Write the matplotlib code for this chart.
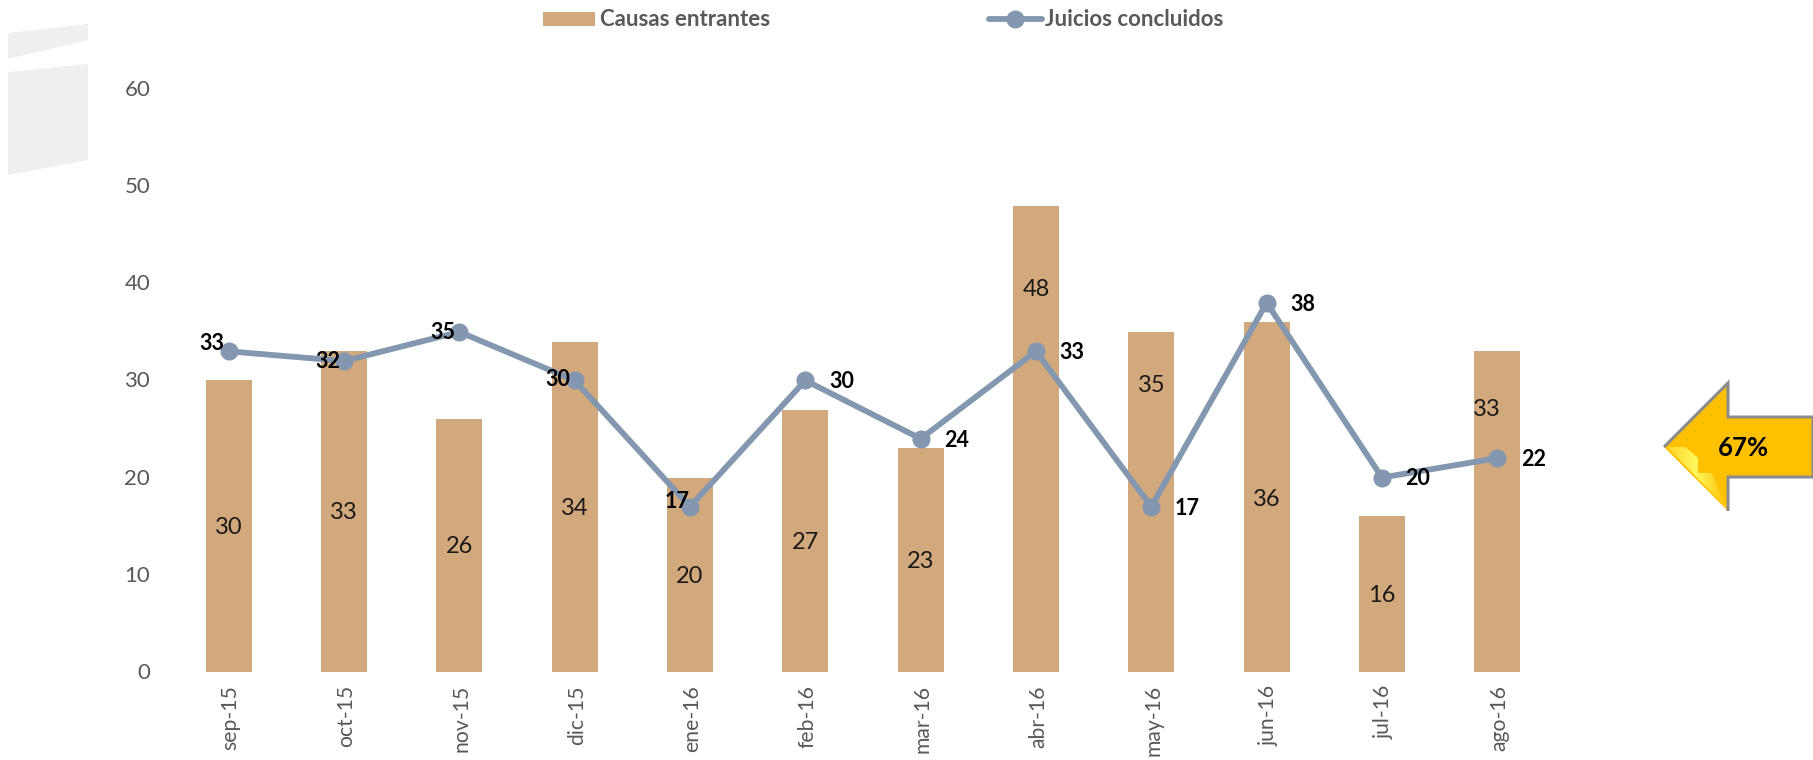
import numpy as np
import matplotlib
matplotlib.use("Agg")
import matplotlib.pyplot as plt
from matplotlib.patches import Polygon, Rectangle
from matplotlib.lines import Line2D
from matplotlib.colors import LinearSegmentedColormap
from matplotlib.transforms import ScaledTranslation

plt.rcParams['font.family'] = ['Lato', 'DejaVu Sans']

months = ['sep-15', 'oct-15', 'nov-15', 'dic-15', 'ene-16', 'feb-16',
          'mar-16', 'abr-16', 'may-16', 'jun-16', 'jul-16', 'ago-16']
causas = [30, 33, 26, 34, 20, 27, 23, 48, 35, 36, 16, 33]
juicios = [33, 32, 35, 30, 17, 30, 24, 33, 17, 38, 20, 22]
y_ticks = [0, 10, 20, 30, 40, 50, 60]
arrow_text = '67%'

BAR = '#D2A97C'
LINE = '#8497B0'
GREY = '#595959'
W, H = 1813, 760
fig = plt.figure(figsize=(W / 100, H / 100), dpi=100, facecolor='white')

# main chart, placed by pixel box
L, R, T, B = 171, 1555, 89.2, 671.7
ax = fig.add_axes([L / W, 1 - B / H, (R - L) / W, (B - T) / H])
ax.set_xlim(-0.5, 11.5)
ax.set_ylim(0, 60)
x = np.arange(len(months))
ax.bar(x, causas, width=0.4, color=BAR, zorder=2)
ax.plot(x, juicios, color=LINE, lw=4.2, marker='o', ms=12, mfc=LINE, mec=LINE,
        zorder=3, solid_capstyle='round', clip_on=False)

for s in ax.spines.values():
    s.set_visible(False)
ax.set_xticks(x)
ax.set_xticklabels(months, rotation=90)
ax.set_yticks(y_ticks)
ax.tick_params(axis='both', length=0, labelcolor=GREY)
ax.tick_params(axis='x', pad=9.6, labelsize=15.2)
ax.tick_params(axis='y', pad=15, labelsize=16)
shift_x = ScaledTranslation(2.0 / 100, 0, fig.dpi_scale_trans)
shift_y = ScaledTranslation(0, 1 / 100, fig.dpi_scale_trans)
for lbl in ax.get_xticklabels():
    lbl.set_transform(lbl.get_transform() + shift_x)
for lbl in ax.get_yticklabels():
    lbl.set_transform(lbl.get_transform() + shift_y)

# bar labels: centred, except where moved clear of the line
moved = {7: 39.55, 8: 29.6, 9: 17.9, 11: 27.1}
nudged = {11: -7.5}
for i, v in enumerate(causas):
    ax.annotate(str(v), (i, moved.get(i, v / 2)), xytext=(nudged.get(i, 0), -1),
                textcoords='offset points', ha='center', va='center',
                fontsize=17, color='#1a1a1a', zorder=5)

# line labels: (x offset, y offset) in points
left_offsets = {0: (-3, 5.5), 1: (-3, -0.5), 2: (-3, -0.5), 3: (-3, 1), 4: (-0.5, 3.4)}
for i, v in enumerate(juicios):
    dx, dy = left_offsets.get(i, (17, -1))
    ax.annotate(str(v), (i, v), xytext=(dx, dy), textcoords='offset points',
                ha='right' if i in left_offsets else 'left', va='center',
                fontsize=15.5, fontweight='bold', color='black', zorder=6)

# overlays in pixel coordinates for decoration and legend
ov = fig.add_axes([0, 0, 1, 1], zorder=-1)
ov.set_xlim(0, W)
ov.set_ylim(H, 0)
ov.axis('off')
ov.add_patch(Polygon([(8, 33), (88, 24), (88, 40), (8, 59)], fc='#EFEFEF', ec='none'))
ov.add_patch(Polygon([(8, 72), (88, 64), (88, 160), (8, 175)], fc='#EFEFEF', ec='none'))

ov2 = fig.add_axes([0, 0, 1, 1], zorder=5)
ov2.patch.set_alpha(0)
ov2.axis('off')

# legend
ov2.add_patch(Rectangle((543, 12), 52, 14, fc=BAR, ec='none'))
ov2.text(600, 19, 'Causas entrantes', fontsize=16, fontweight='bold', color=GREY, va='center')
ov2.add_line(Line2D([989, 1042], [18.7, 18.7], color=LINE, lw=4.2, solid_capstyle='round'))
ov2.add_line(Line2D([1015], [18.7], color=LINE, marker='o', ms=12))
ov2.text(1045, 19, 'Juicios concluidos', fontsize=16, fontweight='bold', color=GREY, va='center')

# arrow
pts = [(1664, 447), (1728, 383), (1728, 417), (1813, 417), (1813, 477), (1728, 477), (1728, 511)]
ov2.add_patch(Polygon(pts, closed=False, fc='#FFC000', ec='#8C8C8C', lw=2.2, joinstyle='miter'))
fold = Polygon([(1667, 447), (1685, 447), (1698, 458), (1698, 473), (1712, 473), (1726, 507)],
               fc='#FFE000', ec='none')
ov2.add_patch(fold)
grad = np.linspace(0, 1, 64).reshape(1, -1)
cmap = LinearSegmentedColormap.from_list('f', ['#FFD020', '#FFF860', '#FFC000'])
im = ov2.imshow(grad, extent=(1664, 1728, 510, 445), cmap=cmap, aspect='auto', zorder=3)
im.set_clip_path(fold)
ov2.set_xlim(0, W)
ov2.set_ylim(H, 0)
ov2.text(1743.5, 448, arrow_text, fontsize=18.5, fontweight='bold', color='black',
         ha='center', va='center', zorder=4)

fig.savefig('out.png', dpi=100)
